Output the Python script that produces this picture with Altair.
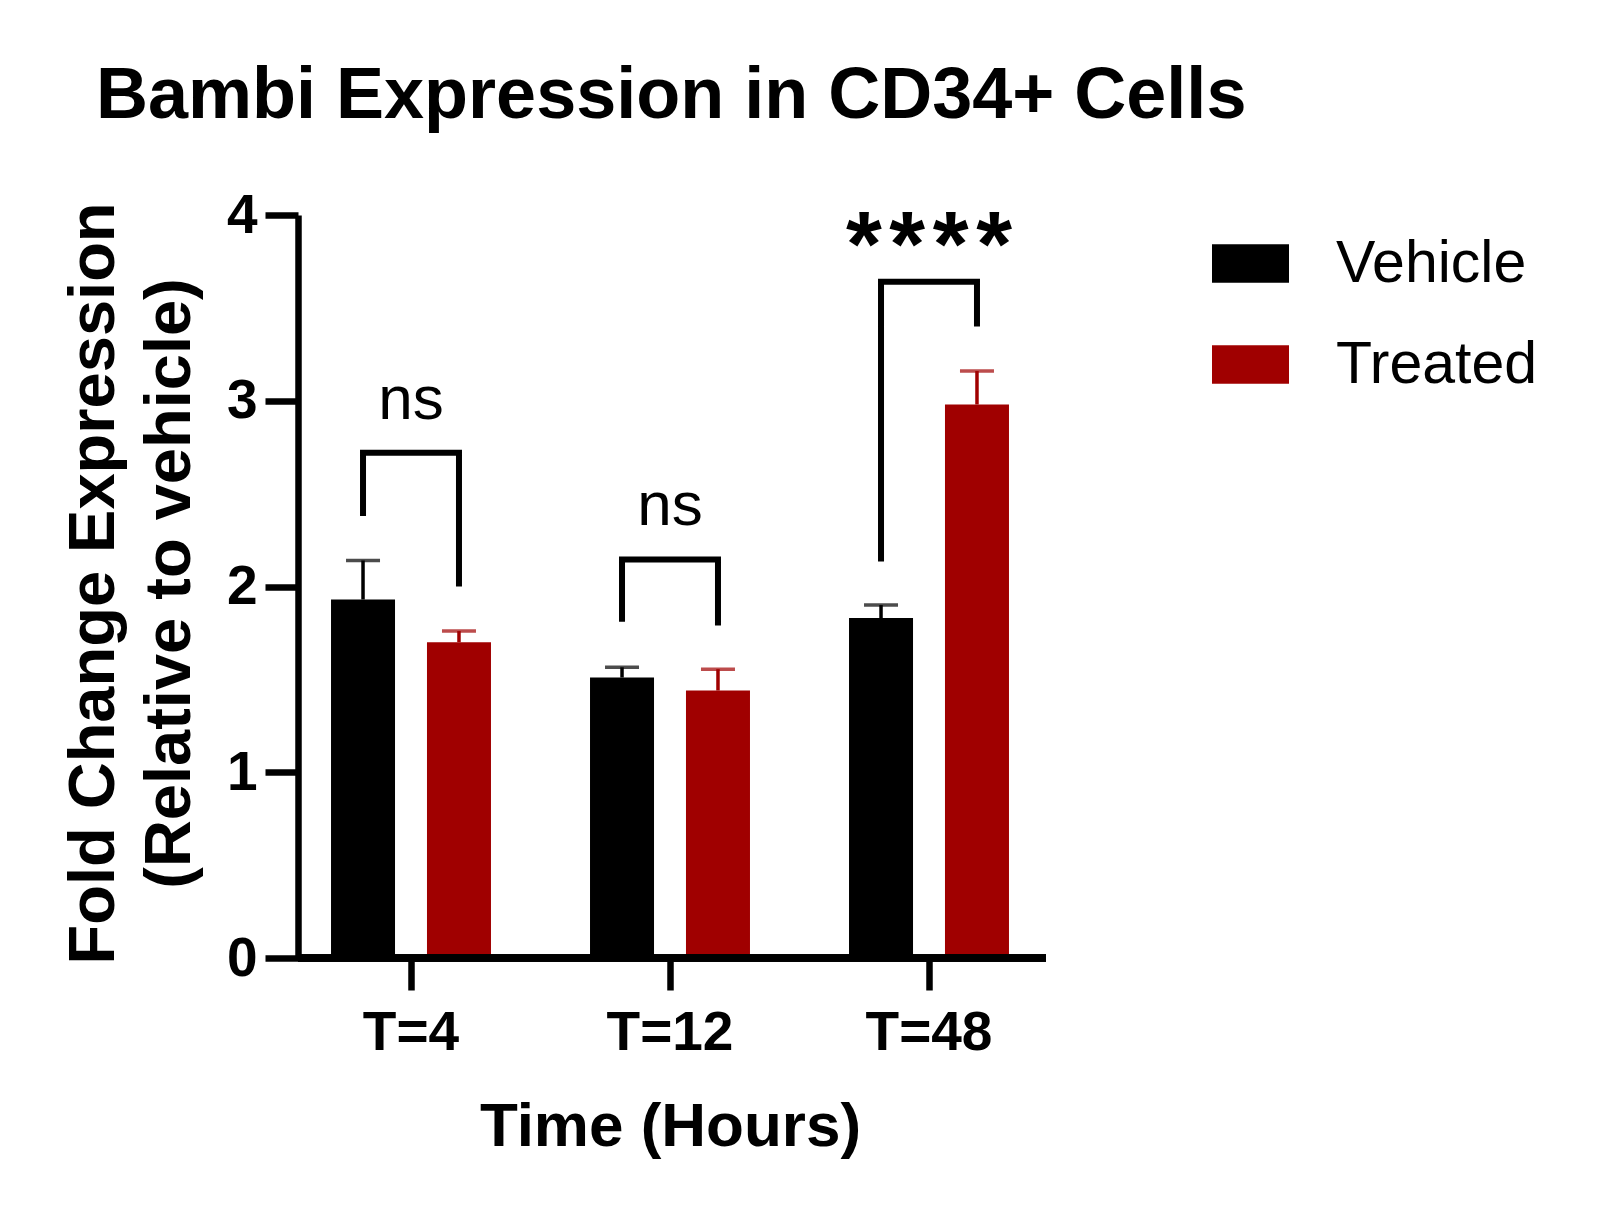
import altair as alt
import pandas as pd

groups = ["T=4", "T=12", "T=48"]
series = ["Vehicle", "Treated"]
vehicle_mean = [1.93, 1.51, 1.83]
vehicle_err = [0.21, 0.055, 0.07]
treated_mean = [1.70, 1.44, 2.98]
treated_err = [0.06, 0.115, 0.18]
bracket_left = [2.38, 1.81, 2.135]
bracket_top = [2.72, 2.145, 3.64]
bracket_right = [2.00, 1.79, 3.40]
sig_labels = ["ns", "ns", "\u200a".join("****")]
sig_y = [2.90, 2.33, 3.92]

FONT = "Liberation Sans"
RED = "#a00000"
W, H = 748, 743

bars_df = pd.DataFrame({
    "group": groups * 2,
    "series": ["Vehicle"] * 3 + ["Treated"] * 3,
    "mean": vehicle_mean + treated_mean,
    "err": vehicle_err + treated_err,
})
bars_df["upper"] = bars_df["mean"] + bars_df["err"]

rows = []
for i, g in enumerate(groups):
    rows.append({"group": g, "series": "Vehicle", "y": bracket_left[i], "pt": 0})
    rows.append({"group": g, "series": "Vehicle", "y": bracket_top[i], "pt": 1})
    rows.append({"group": g, "series": "Treated", "y": bracket_top[i], "pt": 2})
    rows.append({"group": g, "series": "Treated", "y": bracket_right[i], "pt": 3})
br_df = pd.DataFrame(rows)

lab_df = pd.DataFrame({"group": groups, "label": sig_labels, "y": sig_y})

x_scale = alt.Scale(domain=groups, range=[-16.5, 760.5], paddingInner=0, paddingOuter=0)
x_enc = alt.X("group:N", sort=groups, scale=x_scale,
              axis=alt.Axis(title="Time (Hours)", domain=False, labelAngle=0,
                            labelFont=FONT, labelFontSize=55, labelFontWeight="bold",
                            labelColor="black", labelPadding=16,
                            tickSize=32, tickWidth=6.5, tickColor="black",
                            titleFont=FONT, titleFontSize=62, titleFontWeight="bold",
                            titleColor="black", titleY=187, titleBaseline="alphabetic"))
xo_enc = alt.XOffset("series:N", sort=series,
                     scale=alt.Scale(domain=series, paddingInner=0.333, paddingOuter=0.516))
y_scale = alt.Scale(domain=[0, 4], nice=False)
y_axis = alt.Axis(title=["Fold Change Expression", "(Relative to vehicle)"],
                  values=[0, 1, 2, 3, 4], format="d", grid=False,
                  domainWidth=6.5, domainColor="black",
                  tickSize=33, tickWidth=6.5, tickColor="black",
                  labelFont=FONT, labelFontSize=55, labelFontWeight="bold",
                  labelColor="black", labelPadding=8,
                  titleFont=FONT, titleFontSize=65, titleFontWeight="bold",
                  titleColor="black", titleAngle=270, titleX=-185, titleY=368,
                  titleBaseline="alphabetic", titleAlign="center", titleLineHeight=76)
color_scale = alt.Scale(domain=series, range=["#000000", RED])

base = alt.Chart(bars_df)

bars = base.mark_bar(opacity=1).encode(
    x=x_enc, xOffset=xo_enc,
    y=alt.Y("mean:Q", scale=y_scale, axis=y_axis),
    color=alt.Color("series:N", sort=series, scale=color_scale,
                    legend=alt.Legend(title=None, orient="none", legendX=914, legendY=10,
                                      symbolType="M-1,-0.5H1V0.5H-1Z", symbolSize=5929,
                                      symbolStrokeWidth=0, symbolOpacity=1,
                                      labelFont=FONT, labelFontSize=59, labelColor="black",
                                      labelLimit=0, labelOffset=47, rowPadding=32)),
)

err_rule = base.mark_rule(strokeWidth=3.5).encode(
    x=alt.X("group:N", sort=groups), xOffset=alt.XOffset("series:N", sort=series),
    y=alt.Y("mean:Q"), y2="upper:Q",
    color=alt.Color("series:N", sort=series, scale=color_scale, legend=None),
)
err_cap = base.mark_tick(thickness=3.5, size=34).encode(
    x=alt.X("group:N", sort=groups), xOffset=alt.XOffset("series:N", sort=series),
    y=alt.Y("upper:Q"),
    color=alt.Color("series:N", sort=series, scale=color_scale, legend=None),
)

brackets = alt.Chart(br_df).mark_line(color="black", strokeWidth=6, strokeJoin="miter").encode(
    x=alt.X("group:N", sort=groups), xOffset=alt.XOffset("series:N", sort=series),
    y=alt.Y("y:Q"), order="pt:Q", detail="group:N",
)

ns_text = alt.Chart(lab_df).transform_filter(alt.datum.label == "ns").mark_text(
    font=FONT, fontSize=62, baseline="alphabetic", color="black").encode(
    x=alt.X("group:N", sort=groups), y=alt.Y("y:Q"), text="label:N")
star_text = alt.Chart(lab_df).transform_filter(alt.datum.label != "ns").mark_text(
    font=FONT, fontSize=92, fontWeight="bold", baseline="middle", dy=18, color="black").encode(
    x=alt.X("group:N", sort=groups), y=alt.Y("y:Q"), text="label:N")

baseline = alt.Chart(bars_df).mark_rule(color="black", strokeWidth=7).encode(
    y=alt.datum(0), x=alt.value(0), x2=alt.value(W))

chart = alt.layer(bars, err_rule, err_cap, brackets, ns_text, star_text, baseline).properties(
    width=W, height=H,
    autosize=alt.AutoSizeParams(type="none"),
    padding={"left": 290, "top": 207, "right": 530, "bottom": 240},
    title=alt.TitleParams("Bambi Expression in CD34+ Cells", font=FONT, fontSize=72,
                          fontWeight="bold", color="black", anchor="start", frame="group",
                          dx=-202, dy=77, offset=75, baseline="alphabetic"),
).configure_view(stroke=None)

chart.save("out.html", embed_options={"renderer": "svg", "actions": False})
